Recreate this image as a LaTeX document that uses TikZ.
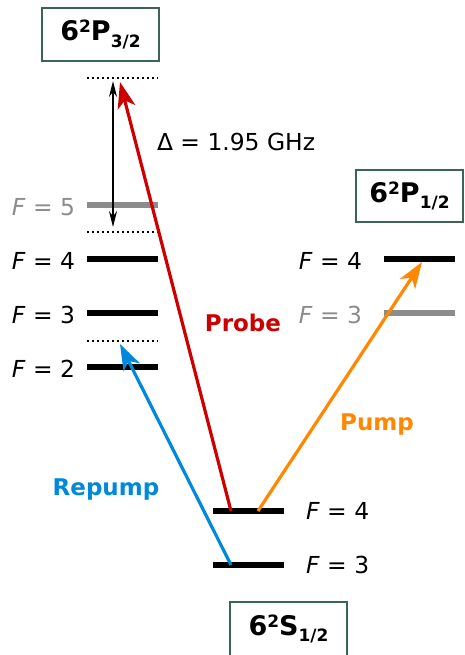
\documentclass[tikz,border=0pt]{standalone}
\usepackage{fontspec}
\setmainfont{DejaVu Sans}
\usetikzlibrary{arrows.meta}
\definecolor{probered}{RGB}{204,0,0}
\definecolor{pumporange}{RGB}{255,136,0}
\definecolor{repumpblue}{RGB}{0,136,221}
\definecolor{levelgray}{RGB}{140,140,140}
\definecolor{boxgreen}{RGB}{60,100,85}
% term symbol 6^2 L_J
\newcommand{\termsym}[2]{6\raisebox{4pt}{\fontsize{8.5}{10}\selectfont 2}#1\raisebox{-3.3pt}{\fontsize{8.5}{10}\selectfont #2}}

\begin{document}
\begin{tikzpicture}[x=0.5pt,y=-0.5pt,
  level/.style={line width=3pt},
  faint/.style={line width=3pt,levelgray},
  virt/.style={line width=1.2pt,dash pattern=on 1.2pt off 1.3pt},
  beam/.style={line width=1.6pt,-{Stealth[length=13pt,width=9pt,inset=3.5pt]}},
  term/.style={draw=boxgreen,line width=0.7pt,inner sep=0pt,
    font=\fontsize{13.5}{16}\selectfont\bfseries},
  lbl/.style={font=\fontsize{11.7}{14}\selectfont}]
  \useasboundingbox (0,0) rectangle (465,655);

  % term boxes
  \node[term,minimum width=58.5pt,minimum height=26.5pt] (P32) at (100.5,34.5)
    {\termsym{P}{3/2}};
  \node[term,minimum width=53.5pt,minimum height=26pt] (P12) at (409.5,196)
    {\termsym{P}{1/2}};
  \node[term,minimum width=58.5pt,minimum height=27pt] (S12) at (288.5,629)
    {\termsym{S}{1/2}};

  % 6P3/2 hyperfine levels
  \draw[virt] (87,78) -- (158,78);
  \draw[faint] (87,205) -- (158,205);
  \draw[virt] (87,232) -- (158,232);
  \draw[level] (87,259) -- (158,259);
  \draw[level] (87,313) -- (158,313);
  \draw[virt] (87,341) -- (158,341);
  \draw[level] (87,367) -- (158,367);
  \node[lbl,anchor=east,text=levelgray] (pF5) at (82,207) {\textit{F} = 5};
  \node[lbl,anchor=east] (pF4) at (82,261) {\textit{F} = 4};
  \node[lbl,anchor=east] (pF3) at (82,315) {\textit{F} = 3};
  \node[lbl,anchor=east] (pF2) at (82,369) {\textit{F} = 2};

  % 6P1/2 hyperfine levels
  \draw[level] (384,259) -- (455,259);
  \draw[faint] (384,313) -- (455,313);
  \node[lbl,anchor=east] (qF4) at (369,261) {\textit{F} = 4};
  \node[lbl,anchor=east,text=levelgray] (qF3) at (369,315) {\textit{F} = 3};

  % 6S1/2 hyperfine levels
  \draw[level] (213,511) -- (284,511);
  \draw[level] (213,565) -- (284,565);
  \node[lbl,anchor=west] (sF4) at (299,511) {\textit{F} = 4};
  \node[lbl,anchor=west] (sF3) at (299,565) {\textit{F} = 3};

  % detuning
  \coordinate (dtop) at (113,81);
  \coordinate (dbot) at (113,227);
  \draw[line width=0.75pt,{Stealth[length=8pt,width=4pt]}-{Stealth[length=8pt,width=4pt]}]
    (dtop) -- (dbot);
  \node[lbl,anchor=west] (delta) at (150,142) {Δ = 1.95 GHz};

  % laser transitions
  \coordinate (probe0) at (231,511);
  \coordinate (probe1) at (120,82);
  \coordinate (pump0) at (258,511);
  \coordinate (pump1) at (422,262);
  \coordinate (rep0) at (231,565);
  \coordinate (rep1) at (120,344);
  \draw[beam,probered] (probe0) -- (probe1);
  \draw[beam,pumporange] (pump0) -- (pump1);
  \draw[beam,repumpblue] (rep0) -- (rep1);
  \node[lbl,font=\fontsize{11.5}{14}\selectfont\bfseries,text=probered] (probe) at (243,323) {Probe};
  \node[lbl,font=\fontsize{11.5}{14}\selectfont\bfseries,text=pumporange] (pump) at (377,425) {Pump};
  \node[lbl,font=\fontsize{11.5}{14}\selectfont\bfseries,text=repumpblue] (repump) at (106,490) {Repump};
\end{tikzpicture}
\end{document}
